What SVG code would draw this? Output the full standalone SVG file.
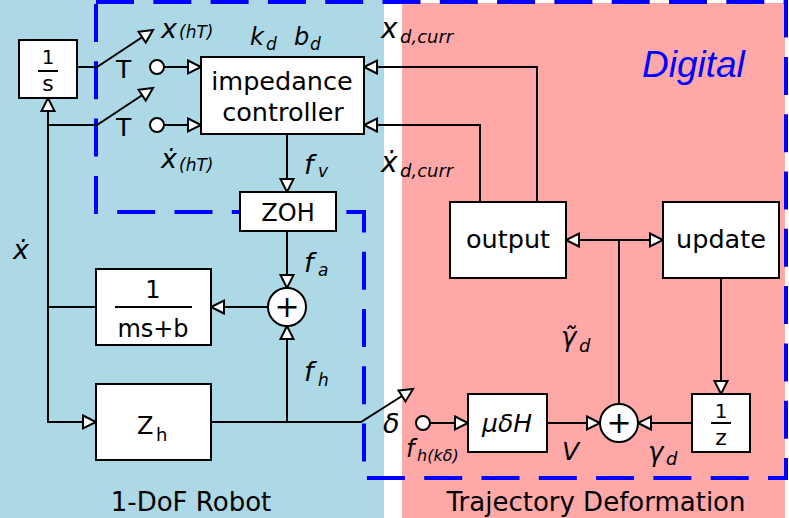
<svg xmlns="http://www.w3.org/2000/svg" width="789" height="518" viewBox="0 0 789 518">
<defs>
<marker id="ah" viewBox="0 0 16 16" refX="14" refY="8" markerWidth="16" markerHeight="16" markerUnits="userSpaceOnUse" orient="auto" overflow="visible">
<path d="M1,1.5 L14,8 L1,14.5 Z" fill="#fff" stroke="#000" stroke-width="2" stroke-linejoin="miter"/>
</marker>
<style>
.box{fill:#fff;stroke:#000;stroke-width:2}
.ln{fill:none;stroke:#000;stroke-width:2}
.arr{marker-end:url(#ah)}
.ct{fill:#fff;stroke:#000;stroke-width:2}
.t{font-family:"DejaVu Sans",sans-serif;fill:#000}
.m{font-family:"DejaVu Sans",sans-serif;font-style:italic;fill:#000}
.mid{text-anchor:middle}
.dash{fill:none;stroke:#0000ff;stroke-width:4;stroke-dasharray:38 19.3}
</style>
</defs>

<g id="background">
<rect x="0" y="0" width="384" height="518" fill="#add8e6"/>
<rect x="384" y="0" width="405" height="518" fill="#fff"/>
<rect x="402" y="3" width="383" height="515" fill="#ffa8a8"/>
<path class="dash" d="M96,2 L786,2 L786,478 L364,478 L364,212 L96,212 L96,2"/>
<text x="642" y="77" font-family="'Liberation Sans',Arial,sans-serif" font-style="italic" font-size="37" fill="#0000ff">Digital</text>
<text class="t mid" x="191" y="511" style="font-size:26px">1-DoF Robot</text>
<text class="t mid" x="596" y="511" style="font-size:26px">Trajectory Deformation</text>
</g>

<g id="connectors">
<polyline class="ln arr" points="77,67 97,67 153,30"/>
<line class="ln arr" x1="164" y1="67" x2="201" y2="67"/>
<polyline class="ln arr" points="48,125 97,125 153,88"/>
<line class="ln arr" x1="164" y1="125" x2="201" y2="125"/>
<polyline class="ln arr" points="96,307 48,307 48,98"/>
<polyline class="ln arr" points="48,307 48,422 96,422"/>
<polyline class="ln arr" points="537,202 537,67 364,67"/>
<polyline class="ln arr" points="480,202 480,125 364,125"/>
<line class="ln arr" x1="287" y1="134" x2="287" y2="192"/>
<line class="ln arr" x1="287" y1="231" x2="287" y2="288"/>
<line class="ln arr" x1="268" y1="307" x2="211" y2="307"/>
<polyline class="ln arr" points="211,422 361,422 413,389"/>
<line class="ln arr" x1="287" y1="422" x2="287" y2="326"/>
<line class="ln arr" x1="430" y1="423" x2="468" y2="423"/>
<line class="ln arr" x1="547" y1="423" x2="600" y2="423"/>
<line class="ln arr" x1="692" y1="423" x2="638" y2="423"/>
<line class="ln" x1="619" y1="404" x2="619" y2="240"/>
<line class="ln arr" x1="619" y1="240" x2="566" y2="240"/>
<line class="ln arr" x1="619" y1="240" x2="663" y2="240"/>
<line class="ln arr" x1="721" y1="278" x2="721" y2="394"/>
<circle class="ct" cx="157" cy="67" r="7"/>
<circle class="ct" cx="157" cy="125" r="7"/>
<circle class="ct" cx="423" cy="423" r="7"/>
</g>

<g id="n-integrator">
<rect class="box" x="19" y="40" width="58" height="58"/>
<text class="t mid" x="48" y="64" style="font-size:20px">1</text>
<line class="ln" x1="38" y1="71" x2="58" y2="71"/>
<text class="t mid" x="48" y="91" style="font-size:22px">s</text>
</g>

<g id="n-impedance">
<rect class="box" x="201" y="57" width="163" height="77"/>
<text class="t mid" x="282" y="90" style="font-size:25.5px">impedance</text>
<text class="t mid" x="283" y="121" style="font-size:25.5px">controller</text>
</g>

<g id="n-zoh">
<rect class="box" x="240" y="192" width="96" height="39"/>
<text class="t mid" x="288" y="221" style="font-size:24px">ZOH</text>
</g>

<g id="n-sum1">
<circle class="box" cx="287" cy="307" r="19"/>
<text class="t mid" x="287" y="317" style="font-size:30px">+</text>
</g>

<g id="n-plant">
<rect class="box" x="96" y="269" width="115" height="76"/>
<text class="t mid" x="153" y="298" style="font-size:24px">1</text>
<line class="ln" x1="115" y1="307" x2="192" y2="307"/>
<text class="t mid" x="153" y="337" style="font-size:24px">ms+b</text>
</g>

<g id="n-zh">
<rect class="box" x="96" y="384" width="115" height="76"/>
<text class="t" x="137" y="434" style="font-size:24px">Z</text>
<text class="t" x="156" y="441" style="font-size:18px">h</text>
</g>

<g id="n-output">
<rect class="box" x="450" y="202" width="116" height="76"/>
<text class="t mid" x="508" y="248" style="font-size:25.5px">output</text>
</g>

<g id="n-update">
<rect class="box" x="663" y="202" width="116" height="76"/>
<text class="t mid" x="721" y="248" style="font-size:25.5px">update</text>
</g>

<g id="n-mudeltaH">
<rect class="box" x="468" y="394" width="79" height="58"/>
<text class="m mid" x="507" y="432" style="font-size:25px">μδH</text>
</g>

<g id="n-sum2">
<circle class="box" cx="619" cy="423" r="19"/>
<text class="t mid" x="619" y="433" style="font-size:30px">+</text>
</g>

<g id="n-delay">
<rect class="box" x="692" y="394" width="58" height="58"/>
<text class="t mid" x="721" y="418" style="font-size:20px">1</text>
<line class="ln" x1="711" y1="423" x2="731" y2="423"/>
<text class="t mid" x="721" y="445" style="font-size:22px">z</text>
</g>

<g id="labels">
<text class="m" x="161" y="38" style="font-size:27px">x</text><text class="m" x="179" y="38" style="font-size:17px">(hT)</text>
<text class="m" x="161" y="168" style="font-size:27px">ẋ</text><text class="m" x="179" y="171" style="font-size:17px">(hT)</text>
<text class="t" x="116" y="78" style="font-size:25px">T</text>
<text class="t" x="116" y="136" style="font-size:25px">T</text>
<text class="m" x="250" y="45" style="font-size:24px">k</text><text class="m" x="266" y="50" style="font-size:17px">d</text>
<text class="m" x="294" y="45" style="font-size:24px">b</text><text class="m" x="310" y="50" style="font-size:17px">d</text>
<text class="m" x="381" y="38" style="font-size:28px">x</text><text class="m" x="400" y="43" style="font-size:18px">d,curr</text>
<text class="m" x="381" y="172" style="font-size:28px">ẋ</text><text class="m" x="400" y="177" style="font-size:18px">d,curr</text>
<text class="m" x="304" y="174" style="font-size:27px">f</text><text class="m" x="318" y="177" style="font-size:17px">v</text>
<text class="m" x="304" y="272" style="font-size:27px">f</text><text class="m" x="318" y="276" style="font-size:17px">a</text>
<text class="m" x="304" y="381" style="font-size:27px">f</text><text class="m" x="318" y="386" style="font-size:17px">h</text>
<text class="m" x="13" y="259" style="font-size:27px">ẋ</text>
<text class="m" x="383" y="433" style="font-size:27px">δ</text>
<text class="m" x="406" y="457" style="font-size:24px">f</text><text class="m" x="417" y="461" style="font-size:16px">h(kδ)</text>
<text class="m" x="562" y="460" style="font-size:25px">V</text>
<text class="m" x="648" y="461" style="font-size:26px">γ</text><text class="m" x="666" y="465" style="font-size:18px">d</text>
<text class="m" x="561" y="346" style="font-size:26px">γ̃</text><text class="m" x="579" y="352" style="font-size:18px">d</text>
</g>
</svg>
